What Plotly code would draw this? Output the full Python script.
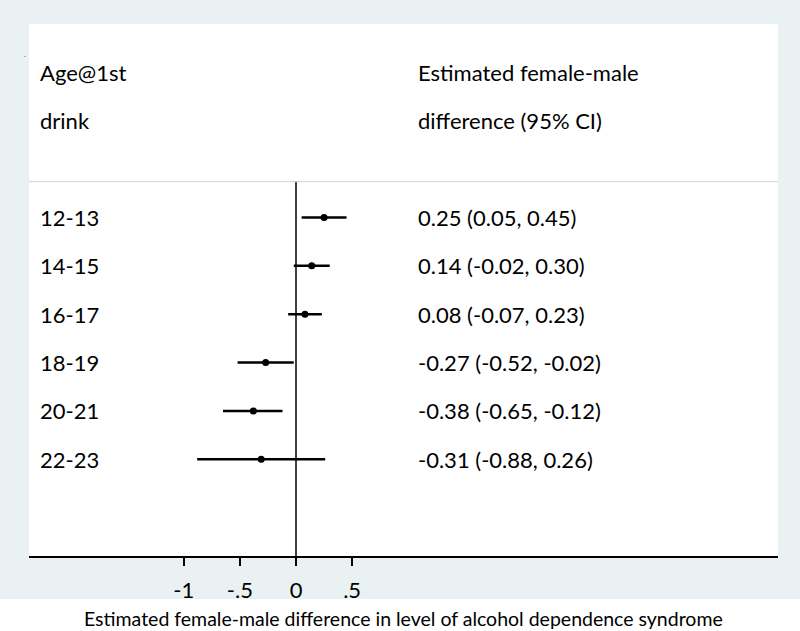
import plotly.graph_objects as go

ages = ["12-13", "14-15", "16-17", "18-19", "20-21", "22-23"]
estimates = [0.25, 0.14, 0.08, -0.27, -0.38, -0.31]
lower = [0.05, -0.02, -0.07, -0.52, -0.65, -0.88]
upper = [0.45, 0.30, 0.23, -0.02, -0.12, 0.26]
tick_vals = [-1, -0.5, 0, 0.5]
tick_text = ["-1", "-.5", "0", ".5"]

FONT = "Lato"
FS = 22
FS_TITLE = 19.5
BLUE = "#e9f1f3"

rows = list(range(len(ages)))

fig = go.Figure()
fig.add_trace(go.Scatter(
    x=estimates, y=rows, mode="markers",
    marker=dict(color="black", size=7, symbol="circle"),
    error_x=dict(type="data", symmetric=False,
                 array=[u - e for u, e in zip(upper, estimates)],
                 arrayminus=[e - l for e, l in zip(estimates, lower)],
                 width=0, thickness=2.5, color="black"),
    showlegend=False, hoverinfo="skip",
))

# layout geometry
W, H = 800, 631
pl, pr, pt, pb = 29, 778, 24, 556
x0px, unit = 296, 112.3
xr = [(pl - x0px) / unit, (pr - x0px) / unit]

annotations = []
label_x = (38 - x0px) / unit
ci_x = (416 - x0px) / unit
txtfont = dict(family=FONT, size=FS, color="black")
for r, a, e, l, u in zip(rows, ages, estimates, lower, upper):
    annotations.append(dict(x=label_x, y=r, text=a, xanchor="left", yanchor="middle",
                            showarrow=False, font=txtfont))
    annotations.append(dict(x=ci_x, y=r, text=f"{e:.2f} ({l:.2f}, {u:.2f})",
                            xanchor="left", yanchor="middle", showarrow=False, font=txtfont))
for yy, t1, t2 in [(-3, "Age@1st", "Estimated female-male"), (-2, "drink", "difference (95% CI)")]:
    annotations.append(dict(x=label_x, y=yy, text=t1, xanchor="left", yanchor="middle",
                            showarrow=False, font=txtfont))
    annotations.append(dict(x=ci_x, y=yy, text=t2, xanchor="left", yanchor="middle",
                            showarrow=False, font=txtfont))
annotations.append(dict(xref="paper", yref="paper", x=(403 - pl) / (pr - pl),
                        y=(pb - 618) / (pb - pt),
                        text="Estimated female-male difference in level of alcohol dependence syndrome",
                        xanchor="center", yanchor="middle", showarrow=False,
                        font=dict(family=FONT, size=FS_TITLE, color="black")))
annotations.append(dict(xref="paper", yref="paper", x=(22 - pl) / (pr - pl), y=(pb - 47) / (pb - pt),
                        text=".", showarrow=False, font=dict(family=FONT, size=8, color="#555555")))

sep_y = -0.74
shapes = [
    dict(type="rect", xref="paper", yref="paper",
         x0=-pl / (pr - pl) - 0.01, x1=(W - pl) / (pr - pl) + 0.01,
         y0=(pb - 599) / (pb - pt), y1=(pb - H - 5) / (pb - pt),
         fillcolor="white", line=dict(width=0), layer="below"),
    dict(type="line", xref="paper", yref="y", x0=0, x1=1, y0=sep_y, y1=sep_y,
         line=dict(color="#d0d0d0", width=1)),
    dict(type="line", xref="x", yref="y", x0=0, x1=0, y0=sep_y, y1=7,
         line=dict(color="black", width=1.5), layer="below"),
]

fig.update_layout(
    width=W, height=H,
    margin=dict(l=pl, r=W - pr, t=pt, b=H - pb, pad=0),
    paper_bgcolor=BLUE, plot_bgcolor="white",
    xaxis=dict(range=xr, tickvals=tick_vals, ticktext=tick_text, ticks="outside",
               ticklen=8, tickwidth=1.5, tickcolor="black", showline=True, linecolor="black",
               linewidth=1.5, showgrid=False, zeroline=False, ticklabelstandoff=6,
               tickfont=dict(family=FONT, size=FS, color="black")),
    yaxis=dict(range=[7, -4], visible=False, showgrid=False, zeroline=False),
    annotations=annotations, shapes=shapes,
)

fig.write_html("out.html", config={"displayModeBar": False},
               post_script="document.body.style.margin='0';document.body.style.padding='0';")
